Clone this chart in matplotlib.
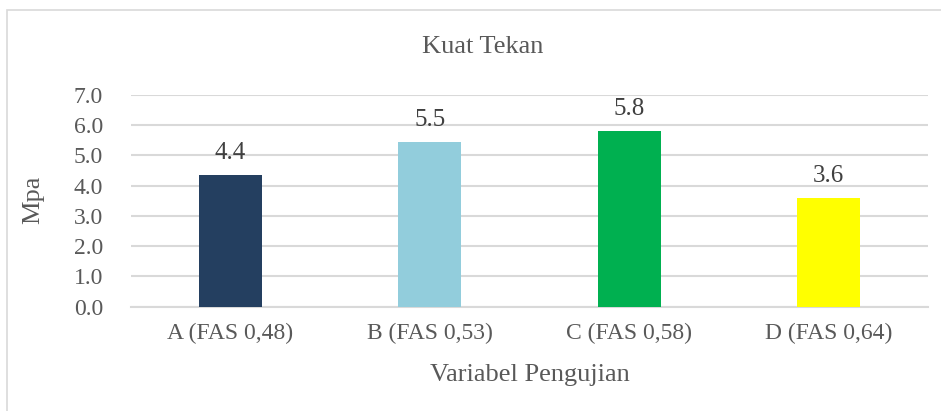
import matplotlib.pyplot as plt
from matplotlib.patches import Rectangle

# data
categories = ['A (FAS 0,48)', 'B (FAS 0,53)', 'C (FAS 0,58)', 'D (FAS 0,64)']
values = [4.36, 5.45, 5.80, 3.60]
bar_colors = ['#243F60', '#92CDDC', '#00B050', '#FFFF00']
y_ticks = [0, 1, 2, 3, 4, 5, 6, 7]

plt.rcParams['font.family'] = ['Liberation Serif', 'DejaVu Serif']
text_color = '#595959'

W, H = 941, 411
fig = plt.figure(figsize=(W / 100, H / 100), dpi=100)

# axes placed in pixel terms
left, right, top, bottom = 130.75, 928, 94.7, 306.7
ax = fig.add_axes([left / W, 1 - bottom / H, (right - left) / W, (bottom - top) / H])

x = range(len(categories))
bars = ax.bar(x, values, width=0.316, color=bar_colors, zorder=3)

ax.set_xlim(-0.5, len(categories) - 0.5)
ax.set_ylim(0, 7)
ax.set_yticks(y_ticks)
ax.set_yticklabels([f'{t:.1f}' for t in y_ticks])
ax.set_xticks(list(x))
ax.set_xticklabels(categories)
ax.tick_params(axis='both', length=0, labelsize=17, colors=text_color)
ax.tick_params(axis='y', pad=20)
ax.tick_params(axis='x', pad=12)

ax.grid(axis='y', color='#D9D9D9', linewidth=1.5, zorder=0)
for side in ['left', 'right', 'top']:
    ax.spines[side].set_visible(False)
ax.spines['bottom'].set_color('#D9D9D9')
ax.spines['bottom'].set_linewidth(1.5)

for b, v in zip(bars, values):
    ax.annotate(f'{v:.1f}', (b.get_x() + b.get_width() / 2, v),
                xytext=(0, 8), textcoords='offset points',
                ha='center', va='bottom', fontsize=18, color='#404040')

fig.text(483 / W, 1 - 47 / H, 'Kuat Tekan', ha='center', va='center',
         fontsize=19, color=text_color)
fig.text(530 / W, 1 - 375 / H, 'Variabel Pengujian', ha='center', va='center',
         fontsize=19, color=text_color)
fig.text(33 / W, 1 - 200 / H, 'Mpa', ha='center', va='center', rotation=90,
         fontsize=19, color=text_color)

# light chart border
fig.patches.append(Rectangle((7 / W, -0.1), 1.2, 1 - 10 / H + 0.1,
                             transform=fig.transFigure, fill=False,
                             edgecolor='#D9D9D9', linewidth=1.2))

fig.savefig('out.png', dpi=100)
